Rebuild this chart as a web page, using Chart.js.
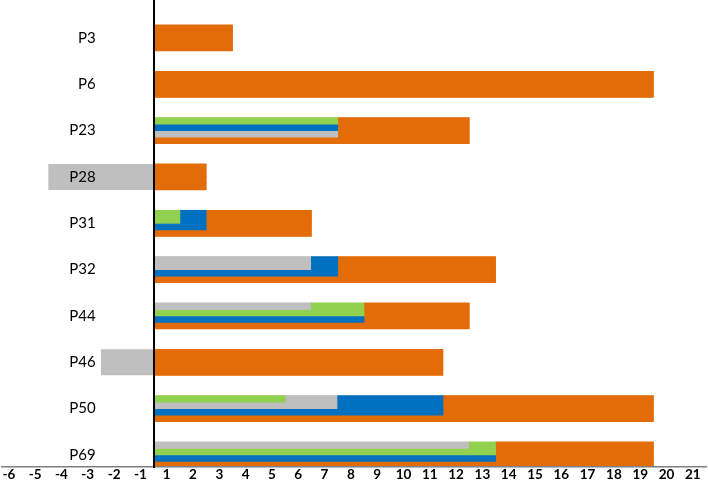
<!DOCTYPE html>
<html>
<head>
<meta charset="utf-8">
<script src="https://cdn.jsdelivr.net/npm/chart.js@4.4.1/dist/chart.umd.min.js"></script>
<style>
    html, body { margin: 0; padding: 0; background: #fff; }
</style>
</head>
<body>
<canvas id="chart" width="708" height="481"></canvas>
<script>
    // data
    const categories = ['P3', 'P6', 'P23', 'P28', 'P31', 'P32', 'P44', 'P46', 'P50', 'P69'];
    const orangeValues = [3, 19, 12, 2, 6, 13, 12, 11, 19, 19];
    const blueValues = [0, 0, 7, 0, 2, 7, 8, 0, 11, 13];
    const greenValues = [0, 0, 7, 0, 1, 0, 8, 0, 5, 13];
    const grayValues = [0, 0, 7, -4, 0, 6, 6, -2, 7, 12];
    const tickLabels = ['-6', '-5', '-4', '-3', '-2', '-1', '1', '2', '3', '4', '5', '6', '7', '8', '9',
        '10', '11', '12', '13', '14', '15', '16', '17', '18', '19', '20', '21'];

    const series = [
        { values: greenValues, color: '#92D050' },
        { values: blueValues, color: '#0070C0' },
        { values: grayValues, color: '#BFBFBF' },
        { values: orangeValues, color: '#E36C09' }
    ];
    const slotCount = 4;
    const barShare = 0.56;

    // per category: series sorted by value, smallest first (ties keep series order)
    const ranked = categories.map((c, i) =>
        series.map((s, k) => ({ k: k, v: Math.max(s.values[i], 0) }))
              .sort((a, b) => a.v - b.v || a.k - b.k));

    // the series of rank r covers slots 0..r; in slot j it shows from the previous rank's value
    function segment(i, k, j) {
        const r = ranked[i].findIndex(e => e.k === k);
        if (r < j) return null;
        const lo = r > j ? ranked[i][r - 1].v : 0;
        const hi = ranked[i][r].v;
        return hi > lo ? [lo, hi] : null;
    }

    const datasets = [];
    for (let j = 0; j < slotCount; j++) {
        series.forEach((s, k) => {
            datasets.push({
                data: categories.map((c, i) => ({ y: i, x: segment(i, k, j) })),
                stack: 's' + j,
                backgroundColor: s.color,
                categoryPercentage: barShare,
                barPercentage: 1,
                inflateAmount: 0.4
            });
        });
    }
    // full-height bars behind the slots
    datasets.push({
        data: categories.map((c, i) => ({ y: i, x: orangeValues[i] })),
        grouped: false,
        backgroundColor: '#E36C09',
        categoryPercentage: barShare,
        barPercentage: 1
    });
    datasets.push({
        data: categories.map((c, i) => ({ y: i, x: grayValues[i] < 0 ? grayValues[i] : null })),
        grouped: false,
        backgroundColor: '#BFBFBF',
        categoryPercentage: barShare,
        barPercentage: 1
    });

    const noPad = scale => {
        scale.paddingTop = 0;
        scale.paddingBottom = 0;
    };

    new Chart(document.getElementById('chart'), {
        type: 'bar',
        data: { datasets: datasets },
        options: {
            indexAxis: 'y',
            responsive: false,
            animation: false,
            devicePixelRatio: 1,
            layout: { padding: { left: 2, right: 2, top: 0, bottom: 0 } },
            plugins: { legend: { display: false }, tooltip: { enabled: false } },
            elements: { bar: { borderWidth: 0 } },
            scales: {
                x: {
                    type: 'linear',
                    min: -5.76,
                    max: 21.0,
                    bounds: 'data',
                    stacked: false,
                    grid: { display: false, drawTicks: false },
                    border: { display: true, color: '#7F7F7F', width: 1.5, z: 1 },
                    ticks: {
                        padding: 1,
                        autoSkip: false,
                        maxRotation: 0,
                        color: '#000',
                        font: { family: 'Lato', size: 13.5, weight: 'bold', lineHeight: 1 },
                        callback: (v, i) => tickLabels[i]
                    },
                    afterBuildTicks: scale => {
                        scale.ticks = tickLabels.map(t => {
                            const n = Number(t);
                            return { value: n > 0 ? n - 0.5 : n + 0.5 };
                        });
                    },
                    afterFit: scale => {
                        scale.paddingLeft = 0;
                        scale.paddingRight = 0;
                        scale.height = 14;
                    }
                },
                // category labels, sitting left of the zero line
                y: {
                    type: 'linear',
                    reverse: true,
                    offset: false,
                    min: -0.82,
                    max: 9.26,
                    bounds: 'data',
                    position: { x: -2.2 },
                    grid: { display: false, drawTicks: false },
                    border: { display: false },
                    ticks: {
                        z: 1,
                        color: '#000',
                        font: { family: 'Lato', size: 15 },
                        callback: v => categories[v]
                    },
                    afterBuildTicks: scale => {
                        scale.ticks = categories.map((c, i) => ({ value: i }));
                    },
                    afterFit: noPad
                },
                // the zero line
                y2: {
                    type: 'linear',
                    axis: 'y',
                    reverse: true,
                    offset: false,
                    min: -0.82,
                    max: 9.26,
                    bounds: 'data',
                    position: { x: 0 },
                    grid: { display: false, drawTicks: false },
                    border: { display: true, color: '#000', width: 2, z: 1 },
                    ticks: { display: false },
                    afterFit: noPad
                }
            }
        }
    });
</script>
</body>
</html>
